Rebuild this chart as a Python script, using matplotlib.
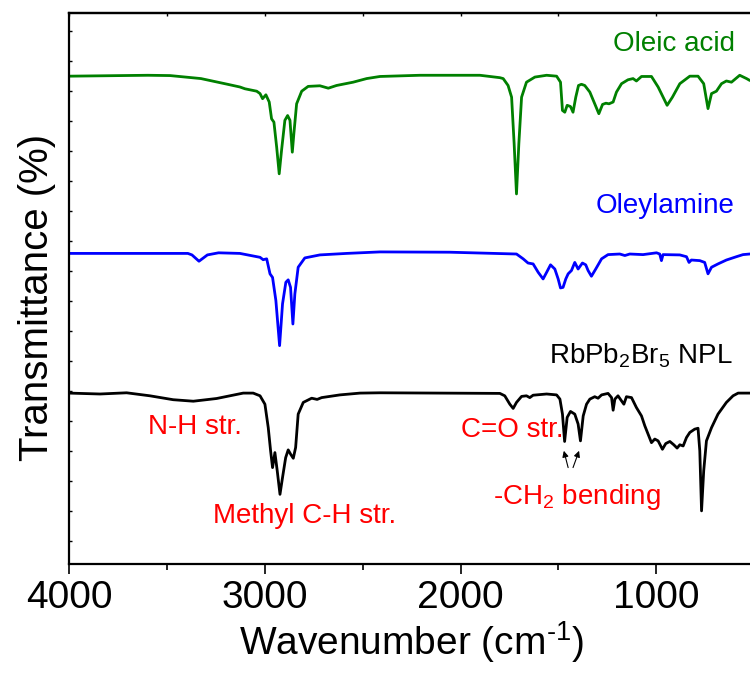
import matplotlib
matplotlib.use("Agg")
import matplotlib.pyplot as plt
from matplotlib.ticker import MultipleLocator, NullFormatter

plt.rcParams['font.family'] = ['Liberation Sans', 'DejaVu Sans']
plt.rcParams['mathtext.fontset'] = 'custom'
plt.rcParams['mathtext.rm'] = 'Liberation Sans'
plt.rcParams['mathtext.it'] = 'Liberation Sans:italic'
plt.rcParams['mathtext.bf'] = 'Liberation Sans:bold'

# ---- data (wavenumber in cm-1, offset transmittance in arbitrary units) ----
oleic_wn = [4000, 3598, 3485, 3327, 3191, 3128, 3102, 3042, 3025, 3012, 2995, 2978,
            2966, 2954, 2940, 2927, 2915, 2898, 2884, 2872, 2860, 2852, 2838, 2812,
            2779, 2719, 2676, 2634, 2549, 2480, 2412, 2208, 1901, 1799, 1782, 1757,
            1739, 1726, 1714, 1702, 1688, 1663, 1620, 1560, 1509, 1489, 1479, 1467,
            1455, 1438, 1425, 1411, 1397, 1382, 1365, 1339, 1314, 1293, 1274, 1257,
            1241, 1220, 1203, 1177, 1144, 1118, 1101, 1075, 1024, 990, 944, 917,
            879, 828, 786, 757, 735, 717, 692, 666, 641, 615, 573, 538, 522, 500]
oleic_t = [154.9, 155.2, 155.1, 154.1, 152.2, 151.3, 150.7, 149.9, 149.1, 147.4, 148.7, 146.3,
           140.7, 139.6, 131.3, 122.4, 130.2, 140.2, 141.8, 140.2, 129.6, 135.8, 145.7, 149.9,
           151.5, 151.7, 150.9, 151.8, 152.9, 154.1, 154.8, 155.2, 155.2, 154.4, 154.1, 151.8,
           147.9, 132.4, 115.7, 132.4, 147.9, 152.9, 154.6, 155.2, 154.9, 152.9, 143.5, 142.9,
           145.2, 144.8, 142.9, 147.9, 151.8, 152.2, 151.8, 149.6, 145.7, 142.4, 145.5, 145.9,
           145.7, 146.3, 149.6, 152.4, 153.7, 154.1, 153.3, 154.8, 154.8, 151.3, 145.2, 147.9,
           152.4, 154.9, 154.9, 152.4, 144.1, 149.1, 149.9, 152.4, 153.3, 152.9, 155.2, 154.1, 153.5, 153.2]

oleylamine_wn = [4000, 3394, 3373, 3337, 3294, 3237, 3128, 3025, 3009, 2991, 2974, 2961,
                 2944, 2925, 2910, 2893, 2881, 2869, 2857, 2847, 2830, 2796, 2719, 2582,
                 2412, 2055, 1714, 1680, 1655, 1629, 1603, 1578, 1560, 1540, 1518, 1501,
                 1489, 1476, 1462, 1450, 1433, 1416, 1399, 1377, 1360, 1348, 1331, 1309,
                 1279, 1246, 1186, 1160, 1135, 1067, 998, 982, 973, 965, 879, 845,
                 832, 820, 777, 752, 735, 717, 684, 641, 590, 556, 522, 500]
oleylamine_t = [95.9, 95.9, 95.4, 93.3, 95.4, 96.1, 95.9, 94.6, 93.8, 94.1, 89.1, 87.9,
                80.2, 65.2, 79.1, 86.3, 87.1, 84.6, 72.4, 82.4, 91.3, 94.4, 95.4, 95.9,
                96.4, 96.3, 95.7, 94.1, 92.7, 92.4, 89.6, 87.4, 89.6, 92.1, 90.7, 87.4,
                84.4, 84.6, 87.4, 89.1, 90.2, 92.9, 90.7, 92.7, 92.1, 90.2, 88.3, 90.7,
                94.1, 95.5, 95.7, 95.2, 95.7, 95.5, 96.1, 95.7, 93.5, 95.5, 95.4, 94.8,
                92.9, 93.7, 93.5, 92.9, 89.1, 91.3, 92.4, 93.7, 94.8, 95.5, 95.7, 95.7]

npl_wn = [4000, 3843, 3707, 3588, 3469, 3366, 3247, 3111, 3060, 3025, 3000, 2983,
          2971, 2961, 2949, 2937, 2923, 2910, 2894, 2881, 2869, 2855, 2843, 2830,
          2804, 2761, 2733, 2710, 2617, 2514, 2412, 1799, 1774, 1748, 1731, 1714,
          1688, 1663, 1646, 1629, 1560, 1509, 1492, 1479, 1468, 1455, 1438, 1416,
          1399, 1387, 1373, 1356, 1339, 1314, 1297, 1279, 1246, 1228, 1220, 1211,
          1195, 1177, 1165, 1152, 1126, 1101, 1075, 1058, 1041, 1024, 1007, 990,
          968, 951, 930, 910, 893, 879, 862, 845, 828, 803, 786, 777,
          768, 757, 743, 717, 684, 641, 607, 581, 522, 500]
npl_t = [49.4, 49.1, 49.5, 48.5, 47.2, 46.7, 47.6, 49.4, 49.4, 48.5, 45.7, 37.9,
         30.2, 24.6, 29.6, 23.5, 15.7, 21.3, 27.9, 30.5, 29.1, 27.7, 31.3, 42.4,
         46.3, 47.7, 47.3, 47.9, 48.8, 49.4, 49.5, 49.3, 48.5, 45.7, 44.3, 46.3,
         48.3, 48.5, 47.9, 48.7, 49.1, 48.8, 47.4, 42.4, 33.3, 41.3, 43.3, 42.4,
         39.1, 33.5, 41.8, 45.7, 47.4, 48.2, 47.7, 48.8, 49.3, 47.9, 43.7, 47.4,
         48.5, 46.8, 45.7, 48.2, 47.9, 44.6, 41.8, 38.5, 35.7, 32.9, 34.1, 33.5,
         30.7, 32.6, 33.3, 32.2, 31.1, 32.2, 31.8, 34.6, 36.3, 37.4, 37.7, 30.2,
         10.2, 23.5, 33.5, 37.9, 42.4, 46.3, 48.5, 49.4, 49.4, 49.4]

series_names = ['Oleic acid', 'Oleylamine', r'RbPb$_2$Br$_5$ NPL']
series_colors = ['#008000', '#0000FF', '#000000']
x_ticks = [4000, 3000, 2000, 1000]
x_label = r'Wavenumber (cm$^{\text{-1}}$)'
y_label = 'Transmittance (%)'
annotations = ['N-H str.', 'C=O str.', r'-CH$_2$ bending', 'Methyl C-H str.']

# ---- figure ----
fig = plt.figure(figsize=(7.5, 6.75), dpi=100)
ax = fig.add_axes([0.0924, 0.1644, 0.9129, 0.8159])

for wn, t, c in zip([oleic_wn, oleylamine_wn, npl_wn], [oleic_t, oleylamine_t, npl_t], series_colors):
    ax.plot(wn, t, color=c, lw=2.0, solid_joinstyle='round')

ax.set_xlim(4000, 500)
ax.set_ylim(-7.5, 175.83)

for s in ax.spines.values():
    s.set_linewidth(1.6)

ax.set_xticks(x_ticks)
ax.xaxis.set_minor_locator(MultipleLocator(500))
ax.tick_params(axis='x', which='major', direction='out', length=7.5, width=1.2,
               labelsize=28, pad=4, top=False)
ax.tick_params(axis='x', which='minor', direction='out', length=4.5, width=1.2, top=False)
ax.yaxis.set_major_locator(MultipleLocator(10))
ax.yaxis.set_major_formatter(NullFormatter())
ax.tick_params(axis='y', which='major', direction='in', length=2.5, width=1.0, right=False)

top = ax.secondary_xaxis('top')
top.set_xticks([4000, 3500, 3000, 2500, 2000, 1500, 1000, 500])
top.tick_params(direction='in', length=2.5, width=1.0, labeltop=False)
top.spines['top'].set_linewidth(1.6)

ax.set_xlabel(x_label, fontsize=28, labelpad=2)
ax.set_ylabel(y_label, fontsize=29, labelpad=9)
ax.yaxis.set_label_coords(-0.02, 0.484)

ax.text(598, 163.2, series_names[0], color=series_colors[0], fontsize=20, ha='right', va='baseline')
ax.text(598, 109.2, series_names[1], color=series_colors[1], fontsize=20, ha='right', va='baseline')
ax.text(608, 59.2, series_names[2], color=series_colors[2], fontsize=20, ha='right', va='baseline')

ax.text(3598, 35.8, annotations[0], color='red', fontsize=20, ha='left', va='baseline')
ax.text(1998, 34.8, annotations[1], color='red', fontsize=20, ha='left', va='baseline')
ax.text(1835, 12.5, annotations[2], color='red', fontsize=20, ha='left', va='baseline')
ax.text(3266, 6.2, annotations[3], color='red', fontsize=20, ha='left', va='baseline')

ax.annotate('', xy=(1472, 30.2), xytext=(1450, 24.6),
            arrowprops=dict(arrowstyle='-|>', color='black', lw=0.8, mutation_scale=9,
                            shrinkA=0, shrinkB=0))
ax.annotate('', xy=(1394, 30.2), xytext=(1425, 24.6),
            arrowprops=dict(arrowstyle='-|>', color='black', lw=0.8, mutation_scale=9,
                            shrinkA=0, shrinkB=0))

fig.savefig('out.png', dpi=100)
